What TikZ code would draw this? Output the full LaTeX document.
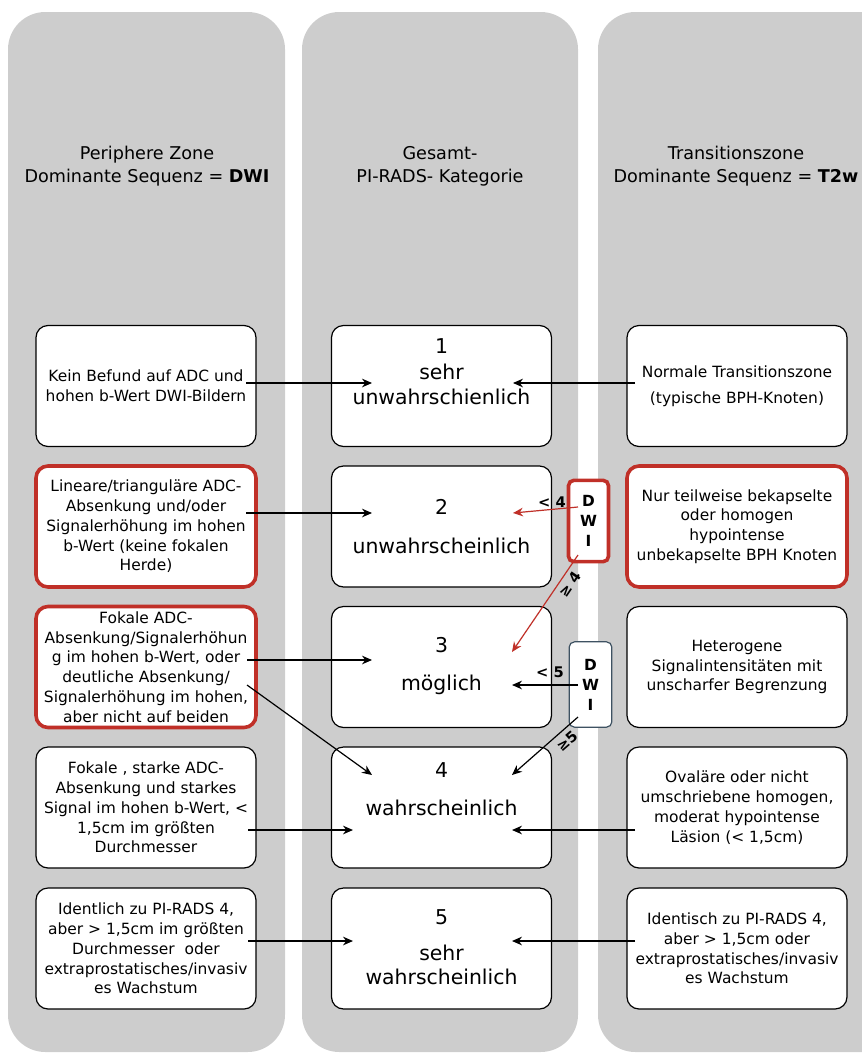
\documentclass[tikz,border=0pt]{standalone}
\usepackage{fontspec}
\setmainfont{DejaVu Sans}
\usetikzlibrary{arrows.meta,calc}
\definecolor{colgrey}{RGB}{205,205,205}
\definecolor{boxred}{RGB}{192,48,40}
\definecolor{slate}{RGB}{62,82,98}
\begin{document}
\begin{tikzpicture}[x=0.75pt,y=-0.75pt,
  column/.style={fill=colgrey, rounded corners=28pt},
  box/.style={draw=black, line width=0.9pt, fill=white, rounded corners=9pt,
    minimum width=165pt, minimum height=90.75pt, inner sep=0pt, align=center,
    font=\fontsize{11.6}{14.85}\selectfont},
  redbox/.style={box, draw=boxred, line width=2.7pt},
  header/.style={align=center, font=\fontsize{13.2}{17.25}\selectfont},
  cat/.style={align=center, font=\fontsize{15.3}{19.5}\selectfont},
  dwibox/.style={fill=white, rounded corners=4pt, inner sep=0pt, align=center,
    font=\bfseries\fontsize{11.5}{15}\selectfont},
  lbl/.style={font=\bfseries\fontsize{11}{12}\selectfont, inner sep=0pt},
  arr/.style={draw=black, line width=0.9pt, -{Stealth[length=7.5pt,width=6.5pt]}},
  redarr/.style={draw=boxred, line width=0.9pt, -{Stealth[length=7.5pt,width=6.5pt]}}
]
\clip (0,0) rectangle (862,1057);
% columns
\fill[column] (8,12) rectangle (285,1052);
\fill[column] (302,12) rectangle (578,1052);
\fill[column] (598,12) rectangle (900,1052);

% headers
\node[header] (H1) at (147,166) {Periphere Zone\\Dominante Sequenz = \textbf{DWI}};
\node[header] (H2) at (440,166) {Gesamt-\\PI-RADS- Kategorie};
\node[header] (H3) at (736,166) {Transitionszone\\Dominante Sequenz = \textbf{T2w}};

% left column
\node[box] (L1) at (146,386) {Kein Befund auf ADC und\\hohen b-Wert DWI-Bildern};
\node[redbox] (L2) at (146,526.5) {Lineare/trianguläre ADC-\\Absenkung und/oder\\Signalerhöhung im hohen\\b-Wert (keine fokalen\\Herde)};
\node[redbox] (L3) at (146,667) {Fokale ADC-\\Absenkung/Signalerhöhun\\g im hohen b-Wert, oder\\deutliche Absenkung/\\Signalerhöhung im hohen,\\aber nicht auf beiden};
\node[box] (L4) at (146,807.5) {Fokale , starke ADC-\\Absenkung und starkes\\Signal im hohen b-Wert, <\\1,5cm im größten\\Durchmesser};
\node[box] (L5) at (146,948.5) {Identlich zu PI-RADS 4,\\aber > 1,5cm im größten\\Durchmesser\ \ oder\\extraprostatisches/invasiv\\es Wachstum};

% middle column
\node[box] (M1) at (441.5,386) {};
\node[box] (M2) at (441.5,526.5) {};
\node[box] (M3) at (441.5,667) {};
\node[box] (M4) at (441.5,807.5) {};
\node[box] (M5) at (441.5,948.5) {};
\node[cat] (M1t) at (441.5,372) {1\\[-0.3pt]sehr\\[-0.3pt]unwahrschienlich};
\node[cat] (M2t) at (441.5,526.5) {2\\[9.75pt]unwahrscheinlich};
\node[cat] (M3t) at (441.5,666) {3\\[9pt]möglich};
\node[cat] (M4t) at (441.5,789) {4\\[9pt]wahrscheinlich};
\node[cat,font=\fontsize{15.3}{18}\selectfont] (M5t) at (441.5,947) {5\\[9pt]sehr\\wahrscheinlich};

% right column
\node[box] (R1) at (737,386) {Normale Transitionszone\\[5pt](typische BPH-Knoten)};
\node[redbox] (R2) at (737,526.5) {Nur teilweise bekapselte\\oder homogen\\hypointense\\unbekapselte BPH Knoten};
\node[box] (R3) at (737,667) {Heterogene\\Signalintensitäten mit\\unscharfer Begrenzung};
\node[box] (R4) at (737,807.5) {Ovaläre oder nicht\\umschriebene homogen,\\moderat hypointense\\Läsion (< 1,5cm)};
\node[box] (R5) at (737,948.5) {Identisch zu PI-RADS 4,\\aber > 1,5cm oder\\extraprostatisches/invasiv\\es Wachstum};

% DWI boxes
\node[dwibox, draw=boxred, line width=2.7pt, minimum width=30pt, minimum height=61pt] (D1) at (588.5,521) {D\\W\\I};
\node[dwibox, draw=slate, line width=0.9pt, minimum width=32pt, minimum height=64pt] (D2) at (590.5,684.5) {D\\W\\I};

% connectors
\draw[arr] ($(L1.center)+(100,-3)$) -- ($(M1.center)+(-69.5,-3)$);
\draw[arr] ($(R1.center)+(-102,-3)$) -- ($(M1.center)+(71.5,-3)$);
\draw[arr] ($(L2.center)+(100,-13.5)$) -- ($(M2.center)+(-69.5,-13.5)$);
\draw[redarr] ($(D1.center)+(-10.5,-14)$) -- ($(M2.center)+(71.5,-13.5)$);
\draw[redarr] ($(D1.center)+(-10.5,34)$) -- ($(M3.center)+(70.5,-15)$);
\draw[arr] ($(D2.center)+(-12.5,0.5)$) -- ($(M3.center)+(70.5,18)$);
\draw[arr] ($(D2.center)+(-12.5,32.5)$) -- ($(M4.center)+(70.5,-32.5)$);
\draw[arr] ($(L3.center)+(101,-7)$) -- ($(M3.center)+(-69.5,-7)$);
\draw[arr] ($(L3.center)+(101,18)$) -- ($(M4.center)+(-69.5,-32.5)$);
\draw[arr] ($(L4.center)+(102,22.5)$) -- ($(M4.center)+(-88.5,22.5)$);
\draw[arr] ($(R4.center)+(-102,22.5)$) -- ($(M4.center)+(70.5,22.5)$);
\draw[arr] ($(L5.center)+(102,-7.5)$) -- ($(M5.center)+(-88.5,-7.5)$);
\draw[arr] ($(R5.center)+(-102,-7.5)$) -- ($(M5.center)+(70.5,-7.5)$);

% labels
\node[lbl] (t1) at (552,502) {< 4};
\node[lbl, rotate=56] (t2) at (570,584) {≥ 4};
\node[lbl] (t3) at (550,672) {< 5};
\node[lbl, rotate=41] (t4) at (567,741) {≥5};
\end{tikzpicture}
\end{document}
